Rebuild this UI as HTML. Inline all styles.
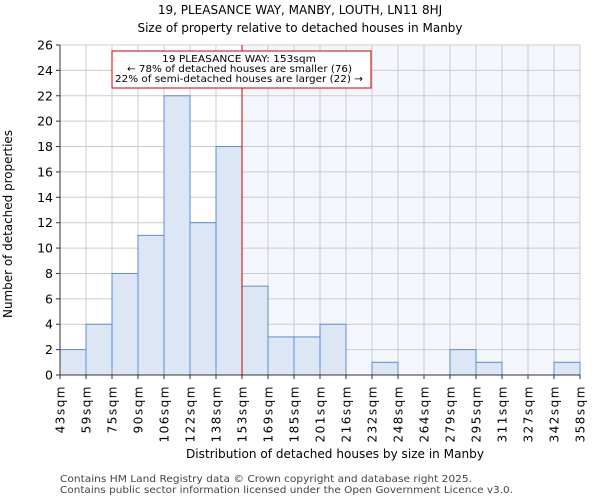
<!DOCTYPE html>
<html><head><meta charset="utf-8"><style>
body{margin:0;background:#fff;}
svg{display:block;font-family:"DejaVu Sans","Liberation Sans",sans-serif;}
</style></head><body>
<svg id="chart" width="600" height="500"></svg>
<script>
const binLabels=["43sqm","59sqm","75sqm","90sqm","106sqm","122sqm","138sqm","153sqm","169sqm","185sqm","201sqm","216sqm","232sqm","248sqm","264sqm","279sqm","295sqm","311sqm","327sqm","342sqm","358sqm"];
const counts=[2,4,8,11,22,12,18,7,3,3,4,0,1,0,0,2,1,0,0,1];
const yTicks=[0,2,4,6,8,10,12,14,16,18,20,22,24,26];
const markerBin=7;
const NS="http://www.w3.org/2000/svg";
const svg=document.getElementById('chart');
const L=60,R=580,T=45,B=375,yMax=26;
const nb=counts.length;
const x=i=>L+(R-L)*i/nb;
const y=v=>B-(B-T)*v/yMax;
function mk(tag,attrs,txt){const e=document.createElementNS(NS,tag);for(const k in attrs)e.setAttribute(k,attrs[k]);if(txt!==undefined)e.textContent=txt;svg.appendChild(e);return e;}
let e=mk('text',{x:300,y:14,'text-anchor':'middle','font-size':12},"19, PLEASANCE WAY, MANBY, LOUTH, LN11 8HJ");

e=mk('text',{x:300,y:32,'text-anchor':'middle','font-size':12},"Size of property relative to detached houses in Manby");

e=mk('rect',{x:x(markerBin),y:T,width:R-x(markerBin),height:B-T,fill:'#f3f6fd'});

for(const t of yTicks){e=mk('line',{x1:L,x2:R,y1:y(t),y2:y(t),stroke:'#cccccc','stroke-width':1});
}
for(let i=0;i<=nb;i++){e=mk('line',{x1:x(i),x2:x(i),y1:T,y2:B,stroke:'#cccccc','stroke-width':1});
}
counts.forEach((c,i)=>{if(c<=0)return;const b=mk('rect',{x:x(i),y:y(c),width:x(i+1)-x(i),height:B-y(c),fill:'#dce6f5',stroke:'#5b8ed6','stroke-width':1});

});
e=mk('line',{x1:L,x2:L,y1:T,y2:B,stroke:'#333'});
e=mk('line',{x1:L,x2:R,y1:B,y2:B,stroke:'#333'});
for(const t of yTicks){mk('line',{x1:L-4,x2:L,y1:y(t),y2:y(t),stroke:'#333'});
e=mk('text',{x:L-7,y:y(t)+4.5,'text-anchor':'end','font-size':12.5},t);
}
binLabels.forEach((lb,i)=>{mk('line',{x1:x(i),x2:x(i),y1:B,y2:B+4,stroke:'#333'});
const t=mk('text',{'text-anchor':'end','font-size':12,'letter-spacing':'1.5',transform:`translate(${x(i)+4.5},${B+10}) rotate(-90)`},lb);
});
e=mk('line',{x1:x(markerBin),x2:x(markerBin),y1:T,y2:B,stroke:'#cc0000','stroke-width':1});

e=mk('rect',{x:112,y:51,width:259,height:37,fill:'#fff',stroke:'#cc0000','stroke-width':1});

const annX=[162,127,115],annW=[154,225,248],annY=[62,72,82];
["19 PLEASANCE WAY: 153sqm","← 78% of detached houses are smaller (76)","22% of semi-detached houses are larger (22) →"].forEach((s,i)=>{
const t=mk('text',{x:annX[i],y:annY[i],'font-size':10,textLength:annW[i],lengthAdjust:'spacingAndGlyphs'},s);
});
e=mk('text',{x:186,y:458,'font-size':12,textLength:298,lengthAdjust:'spacingAndGlyphs'},"Distribution of detached houses by size in Manby");

e=mk('text',{'text-anchor':'middle','font-size':12,textLength:188,lengthAdjust:'spacingAndGlyphs',transform:'translate(12,224) rotate(-90)'},"Number of detached properties");

e=mk('text',{x:60,y:482,'font-size':10,fill:'#444',textLength:412,lengthAdjust:'spacingAndGlyphs'},"Contains HM Land Registry data © Crown copyright and database right 2025.");

e=mk('text',{x:60,y:493,'font-size':10,fill:'#444',textLength:453,lengthAdjust:'spacingAndGlyphs'},"Contains public sector information licensed under the Open Government Licence v3.0.");

</script>
</body></html>
